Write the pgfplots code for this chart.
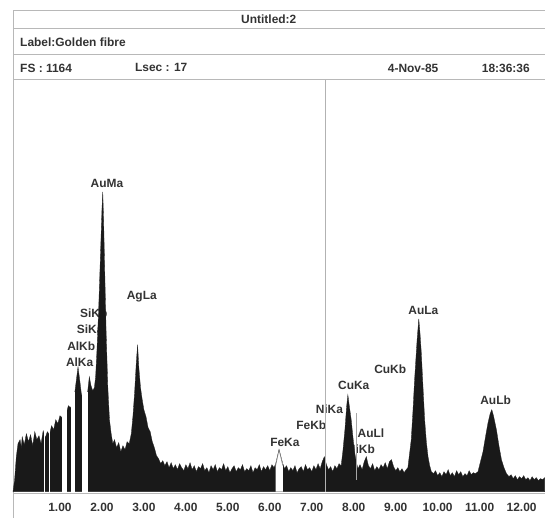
\documentclass[border=0pt]{standalone}
\usepackage{fontspec}
\setmainfont{Liberation Sans}
\usepackage{pgfplots}
\pgfplotsset{compat=1.18}
\definecolor{txt}{gray}{0.2}
\definecolor{frm}{gray}{0.72}
\begin{document}
\begin{tikzpicture}
\begin{axis}[
  width=532bp, height=414bp, scale only axis,
  xmin=-0.119, xmax=12.548, ymin=-2, ymax=412,
  clip=false,
  axis x line=bottom, axis y line=none,
  x axis line style={draw=frm, line width=0.8bp, -},
  xtick={1,2,...,12}, ytick=\empty,
  major tick length=0pt,
  xticklabel style={font=\fontsize{12}{14}\selectfont\bfseries, text=txt, yshift=-6.5bp},
  /pgf/number format/.cd, fixed, fixed zerofill, precision=2, assume math mode=true,
]
% bounding box and frame
\path (axis cs:-0.4286,-26) rectangle (axis cs:12.548,492);
\draw[frm, line width=0.8bp] (axis cs:-0.119,-26) -- (axis cs:-0.119,482) -- (axis cs:12.548,482);
\draw[frm, line width=0.8bp] (axis cs:-0.119,464) -- (axis cs:12.548,464);
\draw[frm, line width=0.8bp] (axis cs:-0.119,438) -- (axis cs:12.548,438);
\draw[frm, line width=0.8bp] (axis cs:-0.119,413) -- (axis cs:12.548,413);
\tikzset{hd/.style={font=\fontsize{12}{14}\selectfont\bfseries, text=txt, inner sep=0pt}}
\node[hd] at (axis cs:5.976,473) {Untitled:2};
\node[hd, anchor=west] at (axis cs:0.048,450) {Label:Golden fibre};
\node[hd, anchor=west] at (axis cs:0.048,424) {FS : 1164};
\node[hd, anchor=west] at (axis cs:2.786,424) {Lsec : 17};
\node[hd, anchor=west] at (axis cs:8.81,424) {4-Nov-85};
\node[hd, anchor=west] at (axis cs:11.05,424) {18:36:36};
% peak labels (drawn before the spectrum, which covers parts of them)
\tikzset{lb/.style={font=\fontsize{12}{14}\selectfont\bfseries, text=txt, inner sep=0pt}}
\node[lb] at (axis cs:2.12,308) {AuMa};
\node[lb] at (axis cs:2.95,195) {AgLa};
\node[lb, anchor=west] at (axis cs:1.476,179) {SiKb};
\node[lb, anchor=west] at (axis cs:1.40,163) {SiKa};
\node[lb, anchor=west] at (axis cs:1.17,146) {AlKb};
\node[lb, anchor=west] at (axis cs:1.14,130) {AlKa};
\node[lb] at (axis cs:6.36,49) {FeKa};
\node[lb] at (axis cs:6.99,66) {FeKb};
\node[lb] at (axis cs:7.42,82) {NiKa};
\node[lb] at (axis cs:8.00,106) {CuKa};
\node[lb] at (axis cs:8.87,122) {CuKb};
\node[lb] at (axis cs:9.66,181) {AuLa};
\node[lb] at (axis cs:11.38,91) {AuLb};
\node[lb] at (axis cs:8.41,58) {AuLl};
\node[lb] at (axis cs:8.17,42) {NiKb};
% spectrum
\addplot[fill=black!90, draw=black!85, line width=0.3bp] coordinates {
(-0.119,0) (-0.08,12) (-0.04,35) (0.00,48) (0.05,52) (0.08,44)
(0.10,55) (0.15,47) (0.20,58) (0.25,50) (0.30,57) (0.35,46) (0.40,60) (0.45,52)
(0.50,56) (0.55,48) (0.60,61) (0.65,54) (0.70,60) (0.75,57) (0.80,66) (0.85,62)
(0.90,72) (0.95,68) (1.00,76) (1.05,74) (1.10,80) (1.15,78) (1.20,86) (1.25,84)
(1.30,88) (1.34,95) (1.38,108) (1.43,125) (1.47,112) (1.51,98) (1.56,90) (1.62,92)
(1.66,100) (1.70,115) (1.74,106) (1.78,101) (1.82,104) (1.85,115) (1.88,140) (1.92,180)
(1.96,230) (2.00,282) (2.02,300) (2.04,272) (2.07,215) (2.10,160) (2.14,105) (2.18,72)
(2.22,58) (2.26,48) (2.30,52) (2.35,44) (2.40,49) (2.45,40) (2.50,46) (2.55,42)
(2.60,50) (2.65,48) (2.70,58) (2.74,76) (2.78,100) (2.82,130) (2.85,147) (2.88,124)
(2.92,104) (2.96,92) (3.00,82) (3.05,75) (3.10,64) (3.15,60) (3.20,50) (3.25,44)
(3.30,36) (3.35,33) (3.40,28) (3.45,31) (3.50,26) (3.55,30) (3.60,24) (3.65,29)
(3.70,23) (3.75,27) (3.80,22) (3.85,28) (3.90,24) (3.95,21) (4.00,27) (4.05,23)
(4.10,29) (4.15,22) (4.20,26) (4.25,20) (4.30,25) (4.35,23) (4.40,28) (4.45,21)
(4.50,24) (4.55,19) (4.60,26) (4.65,22) (4.70,27) (4.75,20) (4.80,24) (4.85,22)
(4.90,28) (4.95,21) (5.00,25) (5.05,19) (5.10,23) (5.15,26) (5.20,20) (5.25,24)
(5.30,22) (5.35,27) (5.40,20) (5.45,23) (5.50,21) (5.55,26) (5.60,19) (5.65,24)
(5.70,22) (5.75,27) (5.80,20) (5.85,25) (5.90,22) (5.95,26) (6.00,21) (6.05,27)
(6.10,24) (6.14,28) (6.22,42) (6.31,28) (6.35,23) (6.40,26) (6.45,20) (6.50,24)
(6.55,21) (6.60,26) (6.65,19) (6.70,23) (6.75,25) (6.80,20) (6.85,27) (6.90,22)
(6.95,24) (7.00,20) (7.05,26) (7.10,22) (7.15,28) (7.20,23) (7.25,30) (7.30,35)
(7.35,27) (7.40,22) (7.45,25) (7.50,20) (7.55,26) (7.60,23) (7.65,28) (7.70,26)
(7.74,40) (7.79,62) (7.83,85) (7.86,97) (7.90,84) (7.94,72) (7.98,55) (8.02,40)
(8.06,30) (8.10,23) (8.15,27) (8.20,22) (8.25,30) (8.30,35) (8.35,26) (8.40,23)
(8.45,28) (8.50,21) (8.55,25) (8.60,22) (8.65,27) (8.70,24) (8.75,29) (8.80,23)
(8.85,30) (8.90,32) (8.95,25) (9.00,21) (9.05,24) (9.10,20) (9.15,23) (9.20,19)
(9.25,22) (9.29,24) (9.33,38) (9.37,52) (9.41,80) (9.45,112) (9.51,152) (9.55,173)
(9.58,158) (9.61,139) (9.65,105) (9.69,72) (9.73,50) (9.77,35) (9.81,26) (9.85,20)
(9.90,18) (9.95,21) (10.00,16) (10.05,19) (10.10,15) (10.15,20) (10.20,17) (10.25,22)
(10.30,16) (10.35,19) (10.40,15) (10.45,21) (10.50,17) (10.55,20) (10.60,15) (10.65,18)
(10.70,16) (10.75,21) (10.80,17) (10.85,19) (10.90,18) (10.96,20) (11.02,30) (11.08,40)
(11.14,55) (11.20,69) (11.25,78) (11.29,82) (11.33,76) (11.37,68) (11.40,62) (11.46,46)
(11.52,32) (11.58,24) (11.64,18) (11.70,15) (11.75,17) (11.80,13) (11.85,16) (11.90,12)
(11.95,15) (12.00,13) (12.05,16) (12.10,12) (12.15,14) (12.20,11) (12.25,15) (12.30,12)
(12.35,14) (12.40,11) (12.45,13) (12.50,12) (12.548,14) (12.548,0)
} --cycle;
% white ROI bands
\addplot[fill=white, draw=none] coordinates {(0.63,0) (0.63,62) (0.655,62) (0.655,0)} --cycle;
\addplot[fill=white, draw=none] coordinates {(0.74,0) (0.74,62) (0.765,62) (0.765,0)} --cycle;
\addplot[fill=white, draw=none] coordinates {(1.04,0) (1.04,82) (1.16,82) (1.16,0)} --cycle;
\addplot[fill=white, draw=none] coordinates {(1.26,0) (1.26,100) (1.36,100) (1.36,0)} --cycle;
\addplot[fill=white, draw=none] coordinates {(1.52,0) (1.52,100) (1.66,100) (1.66,0)} --cycle;
\addplot[fill=white, draw=none] coordinates {(6.14,0) (6.14,28) (6.22,42) (6.31,28) (6.31,0)} --cycle;
\addplot[draw=black!60, line width=0.5bp] coordinates {(6.14,26) (6.22,42) (6.31,26)};
% marker lines
\addplot[draw=black!30, line width=0.4bp] coordinates {(7.31,0) (7.31,412)};
\addplot[draw=black!35, line width=0.4bp] coordinates {(8.06,12) (8.06,79)};
\end{axis}
\end{tikzpicture}
\end{document}
